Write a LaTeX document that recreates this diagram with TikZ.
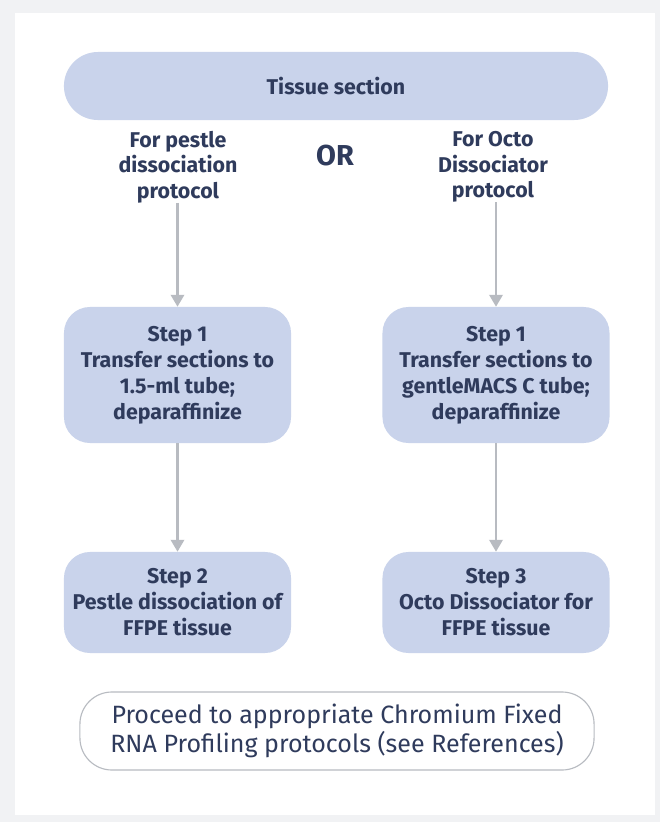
\documentclass[tikz,border=0pt]{standalone}
\usepackage{fontspec}
\setmainfont{Fira Sans}
\usepackage{xcolor}
\usepackage{tikz}
\usetikzlibrary{arrows.meta, positioning}
\definecolor{boxblue}{HTML}{C9D3EB}
\definecolor{inkblue}{HTML}{2F3B5C}
\definecolor{arrowgrey}{HTML}{B8BBC1}
\definecolor{framegrey}{HTML}{F1F2F4}

\begin{document}
\begin{tikzpicture}[x=0.025cm, y=-0.025cm,
    stepbox/.style={draw=none, fill=boxblue, rectangle, rounded corners=0.65cm,
        minimum width=5.675cm, align=center, text=inkblue, font=\fontsize{15.2}{18.5}\selectfont\bfseries},
    pathlabel/.style={align=center, text=inkblue, inner sep=0pt, font=\fontsize{15.2}{18}\selectfont\bfseries},
    flow/.style={draw=arrowgrey, line width=1.7pt, -{Triangle[width=9.5pt,length=8.5pt]}}]
        % Fundo
        \fill[framegrey] (0,0) rectangle (660,822);
        \fill[white] (15,13) rectangle (655,815);
        \useasboundingbox (0,0) rectangle (660,822);

        % Topo
        \node[stepbox, rounded corners=0.85cm, minimum width=13.6cm, minimum height=1.7cm] (tissue) at (336,86) {Tissue section};
        \node[pathlabel] (pestle) at (178,167) {For pestle\\dissociation\\protocol};
        \node[pathlabel] (octo) at (493,167) {For Octo\\Dissociator\\protocol};
        \node[pathlabel, font=\fontsize{20.5}{20}\selectfont\bfseries] (or) at (335,156) {OR};

        % Passos
        \node[stepbox, minimum height=3.4cm] (pstep1) at (177.5,375) {Step 1\\Transfer sections to\\1.5-ml tube;\\deparaffinize};
        \node[stepbox, minimum height=3.4cm] (ostep1) at (496,375) {Step 1\\Transfer sections to\\gentleMACS C tube;\\deparaffinize};
        \node[stepbox, minimum height=2.525cm] (pstep2) at (177.5,602.5) {Step 2\\Pestle dissociation of\\FFPE tissue};
        \node[stepbox, minimum height=2.525cm] (ostep3) at (496,602.5) {Step 3\\Octo Dissociator for\\FFPE tissue};

        \draw[flow] (pestle.south -| pstep1.north) ++(0,-0.3) -- (pstep1.north);
        \draw[flow] (octo.south -| ostep1.north) ++(0,-0.3) -- (ostep1.north);
        \draw[flow] (pstep1) -- (pstep2);
        \draw[flow] (ostep1) -- (ostep3);

        % Final
        \node[draw=arrowgrey, line width=0.8pt, fill=white, rounded corners=0.8cm, minimum width=12.85cm,
            minimum height=1.95cm, align=center, text=inkblue, font=\fontsize{17.8}{20.6}\selectfont] (final) at (337,731)
            {Proceed to appropriate Chromium Fixed\\RNA Profiling protocols (see References)};
\end{tikzpicture}
\end{document}
